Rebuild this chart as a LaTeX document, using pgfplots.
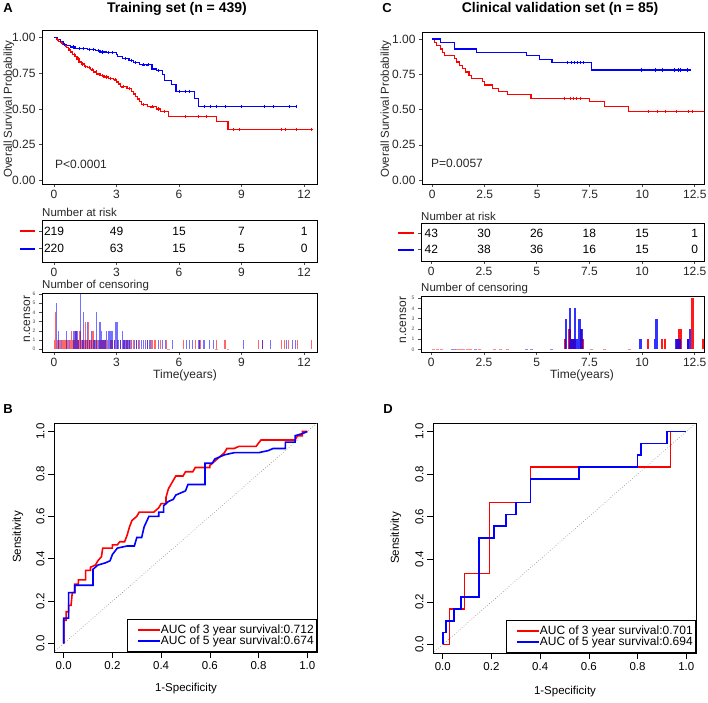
\documentclass[border=0pt]{standalone}
\usepackage{pgfplots}
\pgfplotsset{compat=1.18}
\usepackage{fontspec}
\setmainfont{Liberation Sans}
\newcommand{\fs}[1]{\fontsize{#1}{#1}\selectfont}
\definecolor{kmred}{RGB}{255,0,0}
\definecolor{kmblue}{RGB}{0,0,255}
\pgfplotsset{
 /pgf/number format/assume math mode=true,
 base/.style={scale only axis, anchor=north west, tick align=outside, axis line style={line width=0.8pt, black}, xtick pos=bottom, ytick pos=left},
 gg/.style={base, major tick length=3pt, tick style={line width=0.6pt, black!70}, ticklabel style={font=\fs{12}, text=black!85}, xmin=-0.58, xmax=12.62, xtick={0,3,6,9,12}},
 ggc/.style={base, major tick length=3pt, tick style={line width=0.6pt, black!70}, ticklabel style={font=\fs{12}, text=black!85}, xmin=-0.49, xmax=12.94, xtick={0,2.5,5,7.5,10,12.5}},
 km/.style={ytick={0,0.25,0.5,0.75,1}, yticklabels={0.00,0.25,0.50,0.75,1.00}},
 risk/.style={ymin=0, ymax=1, ytick={0.32,0.73}, yticklabel={\relax}},
 censor/.style={yticklabel style={font=\fs{5}, text=black!70}},
 riskrow/.style={draw=none, nodes near coords, point meta=explicit symbolic, nodes near coords align={center}, every node near coord/.append style={font=\fs{12}, text=black}},
 roc/.style={base, width=263pt, height=229pt, xmin=-0.04, xmax=1.04, ymin=-0.04, ymax=1.04, major tick length=6pt, tick style={line width=0.6pt, black}, ticklabel style={font=\fs{11.5}},
   xtick={0,0.2,0.4,0.6,0.8,1}, ytick={0,0.2,0.4,0.6,0.8,1}, xticklabels={0.0,0.2,0.4,0.6,0.8,1.0}, yticklabels={0.0,0.2,0.4,0.6,0.8,1.0},
   yticklabel style={rotate=90, anchor=south},
   legend style={at={(1,0)}, anchor=south east, draw=black, line width=0.6pt, fill=white, font=\fs{12}, inner xsep=3pt, inner ysep=5pt, row sep=0pt, nodes={inner xsep=0pt, inner ysep=0.5pt}, cells={anchor=west}},
   legend cell align=left,
   legend image code/.code={\path (-7pt,0pt); \draw[##1, line width=1.6pt] (0pt,0pt) -- (22pt,0pt);}},
}
\begin{document}
\begin{tikzpicture}
\useasboundingbox (0,0) rectangle (708pt,-702pt);
% ---------- titles and panel letters
\node[font=\bfseries\fs{13}] at (8pt,-8pt) {A};
\node[font=\bfseries\fs{13}] at (387pt,-8pt) {C};
\node[font=\bfseries\fs{13}] at (8pt,-409pt) {B};
\node[font=\bfseries\fs{13}] at (388pt,-409pt) {D};
\node[font=\bfseries\fs{14}] at (177pt,-9pt) {Training set (n = 439)};
\node[font=\bfseries\fs{14}] at (560pt,-9pt) {Clinical validation set (n = 85)};
% ---------- A: KM
\begin{axis}[gg, km, at={(42pt,-30pt)}, width=275pt, height=154pt, ymin=-0.026, ymax=1.054]
\addplot[kmred, line width=1.2pt, const plot] coordinates {(0,1.0)(0.1,0.99)(0.2,0.975)(0.3,0.965)(0.4,0.955)(0.5,0.945)(0.6,0.93)(0.7,0.915)(0.8,0.90)(0.9,0.885)(1.0,0.87)(1.1,0.85)(1.2,0.83)(1.3,0.815)(1.45,0.80)(1.6,0.79)(1.75,0.775)(1.9,0.76)(2.05,0.745)(2.2,0.735)(2.4,0.725)(2.6,0.715)(2.85,0.705)(3.0,0.69)(3.1,0.675)(3.2,0.655)(3.5,0.645)(3.7,0.625)(3.8,0.605)(3.9,0.585)(4.0,0.57)(4.1,0.55)(4.2,0.53)(4.5,0.515)(4.9,0.50)(5.1,0.485)(5.5,0.45)(7.8,0.41)(8.35,0.355)(12.35,0.355)};
\addplot[kmred, only marks, mark=+, mark size=1.6pt, line width=0.5pt] coordinates {(0.15,0.99)(0.35,0.965)(0.55,0.945)(0.75,0.915)(0.95,0.885)(1.15,0.85)(1.35,0.815)(1.5,0.80)(1.7,0.79)(1.85,0.775)(2.0,0.76)(2.3,0.735)(2.5,0.725)(2.7,0.715)(2.95,0.705)(3.3,0.655)(3.6,0.645)(4.3,0.53)(4.7,0.515)(5.0,0.50)(5.3,0.485)(6.3,0.45)(6.9,0.45)(7.3,0.45)(8.6,0.355)(8.9,0.355)(10.9,0.355)(11.1,0.355)(11.6,0.355)(12.35,0.355)};
\addplot[kmblue, line width=1.2pt, const plot] coordinates {(0,1.0)(0.15,0.985)(0.3,0.97)(0.45,0.955)(0.6,0.945)(0.8,0.935)(1.0,0.925)(1.6,0.92)(2.0,0.91)(2.2,0.90)(2.5,0.895)(3.0,0.885)(3.05,0.87)(3.3,0.855)(3.6,0.84)(3.8,0.825)(4.1,0.81)(4.7,0.78)(4.9,0.77)(5.2,0.74)(5.3,0.70)(5.65,0.67)(5.85,0.625)(6.75,0.575)(6.95,0.52)(11.6,0.52)};
\addplot[kmblue, only marks, mark=+, mark size=1.6pt, line width=0.5pt] coordinates {(0.5,0.955)(0.9,0.935)(1.2,0.925)(1.4,0.925)(1.7,0.92)(1.9,0.92)(2.1,0.91)(2.3,0.90)(2.6,0.895)(2.8,0.895)(3.4,0.855)(3.7,0.84)(3.9,0.825)(4.3,0.81)(4.5,0.81)(5.0,0.77)(6.0,0.625)(6.3,0.625)(6.5,0.625)(7.2,0.52)(7.5,0.52)(7.8,0.52)(8.2,0.52)(9.0,0.52)(10.1,0.52)(10.5,0.52)(11.3,0.52)(11.6,0.52)};
\end{axis}
\node[rotate=90, font=\fs{11.5}, text=black!85] at (9pt,-109pt) {Overall Survival Probability};
\node[anchor=west, inner sep=0pt, font=\fs{12}, text=black!85] at (55pt,-164pt) {P<0.0001};
% ---------- A: risk table
\node[anchor=west, inner sep=0pt, font=\fs{11.5}, text=black!85] at (42pt,-212pt) {Number at risk};
\fill[kmred] (20pt,-230.4pt) rectangle (35pt,-232.2pt);
\fill[kmblue] (20pt,-247.7pt) rectangle (35pt,-249.5pt);
\begin{axis}[gg, risk, at={(42pt,-220pt)}, width=275pt, height=42pt]
\addplot[riskrow] table[meta=n] {
x y n
0 0.73 219
3 0.73 49
6 0.73 15
9 0.73 7
12 0.73 1
};
\addplot[riskrow] table[meta=n] {
x y n
0 0.32 220
3 0.32 63
6 0.32 15
9 0.32 5
12 0.32 0
};
\end{axis}
% ---------- A: censoring
\node[anchor=west, inner sep=0pt, font=\fs{11.5}, text=black!85] at (42pt,-286pt) {Number of censoring};
\begin{axis}[gg, censor, at={(42pt,-293pt)}, width=275pt, height=59pt, ymin=-0.3, ymax=6.1, ytick={0,1,2,3,4,5,6}]
\addplot[ycomb, kmred, opacity=0.6, line width=1.3pt] coordinates {(0.05,1)(0.08,4)(0.15,1)(0.22,1)(0.28,1)(0.32,1)(0.4,1)(0.45,1)(0.48,1)(0.55,1)(0.62,1)(0.66,1)(0.7,1)(0.78,1)(0.82,1)(0.85,2)(0.9,1)(0.95,1)(0.98,1)(1.0,1)(1.05,2)(1.08,1)(1.1,1)(1.15,1)(1.2,1)(1.25,2)(1.3,1)(1.35,1)(1.4,1)(1.45,1)(1.52,3)(1.58,1)(1.65,3)(1.72,1)(1.78,1)(1.87,2)(1.95,1)(2.02,1)(2.1,1)(2.18,1)(2.25,1)(2.32,1)(2.4,1)(2.48,1)(2.55,1)(2.7,1)(2.78,1)(2.9,1)(3.05,1)(3.2,1)(3.35,1)(3.5,1)(3.65,1)(3.8,1)(3.95,1)(4.1,1)(4.5,1)(4.7,1)(4.85,1)(5.1,1)(5.4,1)(6.2,1)(6.8,1)(7.0,1)(7.8,1)(8.2,1)(9.8,1)(10.0,1)(10.9,1)(11.05,1)(11.25,1)(11.7,1)(12.35,1)};
\addplot[ycomb, kmblue, opacity=0.55, line width=1.3pt] coordinates {(0.1,5)(0.2,2)(0.35,1)(0.6,2)(0.75,1)(0.95,2)(1.02,2)(1.1,2)(1.18,1)(1.28,6)(1.35,1)(1.42,4)(1.5,1)(1.6,3)(1.7,1)(1.8,2)(1.9,1)(1.97,1)(2.03,4)(2.12,1)(2.2,3)(2.28,2)(2.35,1)(2.38,1)(2.45,1)(2.52,2)(2.6,2)(2.68,2)(2.75,2)(2.82,2)(2.9,1)(2.97,3)(3.03,3)(3.1,1)(3.18,1)(3.28,2)(3.35,1)(3.4,1)(3.5,1)(3.6,1)(3.72,1)(3.85,1)(3.95,1)(4.05,1)(4.2,1)(4.3,1)(4.4,1)(4.5,1)(4.6,1)(5.0,1)(5.2,1)(5.35,1)(5.7,1)(6.35,1)(6.5,1)(6.65,1)(6.95,1)(7.2,1)(7.45,1)(7.65,1)(9.1,1)(10.0,1)(10.4,1)(11.15,1)(11.45,1)(11.6,1)};
\addplot[only marks, mark=-, mark size=1.2pt, kmred!40] coordinates {(5.5,0)(7.8,0)(8.35,0)};
\end{axis}
\node[rotate=90, font=\fs{12}, text=black!85] at (27pt,-319pt) {n.censor};
\node[font=\fs{12}, text=black!85] at (185pt,-375pt) {Time(years)};
% ---------- C: KM
\begin{axis}[ggc, km, at={(422pt,-32pt)}, width=282pt, height=152pt, ymin=-0.028, ymax=1.05]
\addplot[kmred, line width=1.2pt, const plot] coordinates {(0,1)(0.1,0.977)(0.2,0.953)(0.4,0.93)(0.5,0.907)(0.6,0.884)(1.05,0.86)(1.15,0.837)(1.3,0.814)(1.45,0.791)(1.6,0.767)(1.75,0.744)(1.85,0.721)(2.4,0.698)(2.5,0.674)(2.85,0.651)(3.15,0.628)(3.6,0.605)(4.7,0.581)(7.5,0.555)(8.2,0.52)(9.35,0.486)(13,0.486)};
\addplot[kmred, only marks, mark=+, mark size=1.6pt, line width=0.5pt] coordinates {(6.3,0.581)(6.55,0.581)(6.7,0.581)(6.85,0.581)(7.05,0.581)(10.3,0.486)(10.7,0.486)(11.1,0.486)(11.6,0.486)(12.2,0.486)(12.4,0.486)};
\addplot[kmblue, line width=1.2pt, const plot] coordinates {(0,1)(0.4,0.976)(1.05,0.929)(2.1,0.905)(4.5,0.881)(5.1,0.857)(5.7,0.833)(7.6,0.78)(12.3,0.78)};
\addplot[kmblue, only marks, mark=+, mark size=1.6pt, line width=0.5pt] coordinates {(6.45,0.833)(6.6,0.833)(6.75,0.833)(6.9,0.833)(7.05,0.833)(7.2,0.833)(9.96,0.78)(10.6,0.78)(10.95,0.78)(11.5,0.78)(11.7,0.78)(11.8,0.78)(12.15,0.78)};
\end{axis}
\node[rotate=90, font=\fs{11.5}, text=black!85] at (386pt,-109pt) {Overall Survival Probability};
\node[anchor=west, inner sep=0pt, font=\fs{12}, text=black!85] at (431pt,-163pt) {P=0.0057};
% ---------- C: risk table
\node[anchor=west, inner sep=0pt, font=\fs{11.5}, text=black!85] at (421pt,-216pt) {Number at risk};
\fill[kmred] (398pt,-232.4pt) rectangle (414pt,-234.2pt);
\fill[kmblue] (398pt,-248.7pt) rectangle (414pt,-250.5pt);
\begin{axis}[ggc, risk, at={(421pt,-223pt)}, width=283pt, height=38pt]
\addplot[riskrow] table[meta=n] {
x y n
0 0.73 43
2.5 0.73 30
5 0.73 26
7.5 0.73 18
10 0.73 15
12.5 0.73 1
};
\addplot[riskrow] table[meta=n] {
x y n
0 0.30 42
2.5 0.30 38
5 0.30 36
7.5 0.30 16
10 0.30 15
12.5 0.30 0
};
\end{axis}
% ---------- C: censoring
\node[anchor=west, inner sep=0pt, font=\fs{11.5}, text=black!85] at (421pt,-289pt) {Number of censoring};
\begin{axis}[ggc, censor, at={(421pt,-296pt)}, width=283pt, height=56pt, ymin=-0.25, ymax=5.2, ytick={0,1,2,3,4,5}]
\addplot[ycomb, kmred, opacity=0.9, line width=2.4pt] coordinates {(6.33,1)(6.55,2)(6.65,1)(6.8,1)(7.1,2)(7.2,1)(10.29,1)(10.95,1)(11.1,1)(11.65,1)(11.75,2)(11.82,2)(12.18,1)(12.4,5)(12.9,1)};
\addplot[ycomb, kmblue, opacity=0.8, line width=2.4pt] coordinates {(6.4,3)(6.59,4)(6.7,1)(6.83,4)(6.9,1)(7.04,3)(7.12,2)(9.93,1)(10.62,1)(10.69,3)(11.62,1)(11.72,1)(11.8,1)(12.2,1)(12.27,2)};
\addplot[only marks, mark=-, mark size=1.5pt, kmred!45] coordinates {(0.1,0)(0.3,0)(0.5,0)(1.1,0)(1.25,0)(1.4,0)(1.55,0)(1.7,0)(1.85,0)(2.3,0)(3.0,0)(3.3,0)(3.6,0)(7.6,0)(8.2,0)(9.4,0)};
\addplot[only marks, mark=-, mark size=1.5pt, kmblue!45] coordinates {(1.0,0)(1.1,0)(2.1,0)(4.5,0)(4.75,0)(5.7,0)};
\end{axis}
\node[rotate=90, font=\fs{12}, text=black!85] at (403pt,-320pt) {n.censor};
\node[font=\fs{12}, text=black!85] at (582pt,-375pt) {Time(years)};
% ---------- B: ROC training
\begin{axis}[roc, at={(54pt,-423pt)}]
\addplot[gray, dotted, line width=0.6pt, forget plot] coordinates {(-0.05,-0.05)(1.05,1.05)};
\addplot[kmred, line width=1.6pt] coordinates {(0,0)(0,0.11)(0.01,0.11)(0.01,0.15)(0.02,0.15)(0.02,0.18)(0.03,0.18)(0.035,0.24)(0.045,0.24)(0.045,0.28)(0.06,0.28)(0.06,0.30)(0.09,0.30)(0.09,0.345)(0.11,0.345)(0.11,0.36)(0.13,0.37)(0.14,0.39)(0.155,0.41)(0.16,0.45)(0.2,0.45)(0.2,0.465)(0.22,0.465)(0.23,0.48)(0.25,0.48)(0.26,0.51)(0.27,0.55)(0.28,0.58)(0.29,0.59)(0.3,0.60)(0.31,0.62)(0.37,0.62)(0.39,0.64)(0.4,0.66)(0.42,0.66)(0.42,0.69)(0.43,0.73)(0.44,0.75)(0.45,0.77)(0.46,0.79)(0.49,0.79)(0.5,0.81)(0.53,0.81)(0.54,0.83)(0.6,0.83)(0.6,0.84)(0.62,0.86)(0.64,0.88)(0.66,0.90)(0.67,0.92)(0.7,0.92)(0.72,0.93)(0.79,0.93)(0.81,0.96)(0.95,0.96)(0.96,0.98)(0.98,0.98)(0.98,1.0)(1,1)};
\addlegendentry{AUC of 3 year survival:0.712}
\addplot[kmblue, line width=1.6pt] coordinates {(0,0)(0,0.12)(0.02,0.12)(0.02,0.24)(0.045,0.24)(0.045,0.275)(0.12,0.275)(0.12,0.35)(0.13,0.36)(0.14,0.37)(0.17,0.38)(0.19,0.39)(0.2,0.42)(0.22,0.45)(0.26,0.46)(0.29,0.46)(0.3,0.50)(0.32,0.50)(0.33,0.55)(0.35,0.60)(0.39,0.60)(0.39,0.62)(0.41,0.62)(0.41,0.65)(0.43,0.67)(0.45,0.68)(0.46,0.70)(0.48,0.71)(0.5,0.72)(0.51,0.75)(0.58,0.75)(0.58,0.85)(0.61,0.85)(0.62,0.87)(0.66,0.89)(0.7,0.90)(0.8,0.90)(0.84,0.91)(0.86,0.92)(0.91,0.92)(0.91,0.95)(0.95,0.95)(0.95,0.98)(0.98,0.99)(1,1)};
\addlegendentry{AUC of 5 year survival:0.674}
\end{axis}
\node[rotate=90, font=\fs{11.5}] at (18pt,-537pt) {Sensitivity};
\node[font=\fs{11.5}] at (186pt,-689pt) {1-Specificity};
% ---------- D: ROC validation
\begin{axis}[roc, at={(433pt,-423pt)}, height=230pt]
\addplot[gray, dotted, line width=0.6pt, forget plot] coordinates {(-0.05,-0.05)(1.05,1.05)};
\addplot[kmred, line width=1.6pt] coordinates {(0,0)(0.027,0)(0.027,0.167)(0.09,0.167)(0.09,0.333)(0.192,0.333)(0.192,0.667)(0.36,0.667)(0.36,0.833)(0.936,0.833)(0.936,1.0)(1,1)};
\addlegendentry{AUC of 3 year survival:0.701}
\addplot[kmblue, line width=1.6pt] coordinates {(0,0)(0,0.056)(0.014,0.056)(0.014,0.111)(0.045,0.111)(0.045,0.167)(0.075,0.167)(0.075,0.222)(0.15,0.222)(0.15,0.5)(0.21,0.5)(0.21,0.556)(0.26,0.556)(0.26,0.611)(0.3,0.611)(0.3,0.667)(0.36,0.667)(0.36,0.778)(0.56,0.778)(0.56,0.833)(0.8,0.833)(0.8,0.889)(0.815,0.889)(0.815,0.944)(0.92,0.944)(0.92,1.0)(1,1)};
\addlegendentry{AUC of 5 year survival:0.694}
\end{axis}
\node[rotate=90, font=\fs{11.5}] at (396pt,-538pt) {Sensitivity};
\node[font=\fs{11.5}] at (565pt,-692pt) {1-Specificity};
\end{tikzpicture}
\end{document}
